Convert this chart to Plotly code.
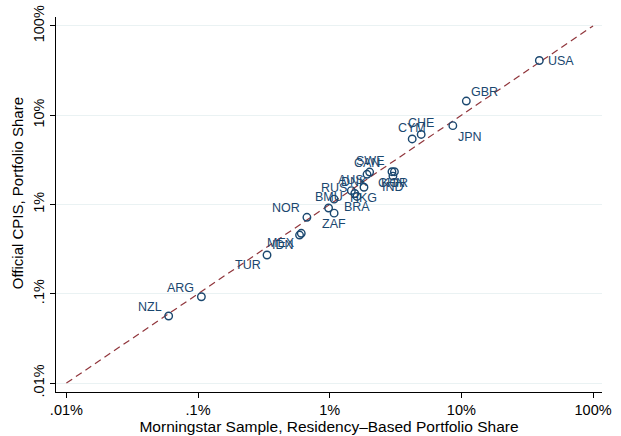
import math
import plotly.graph_objects as go

# Data (percent shares)
countries = ["USA", "GBR", "JPN", "CHE", "CYM", "SWE", "CAN", "CHN", "KOR", "IND",
             "HKG", "AUS", "DNK", "BRA", "RUS", "BMU", "ZAF", "NOR", "MEX", "IDN",
             "TUR", "ARG", "NZL"]
morningstar = [39.1, 10.9, 8.61, 4.95, 4.23, 2.01, 1.92, 2.97, 3.10, 3.02,
               1.82, 1.46, 1.55, 1.61, 1.08, 0.98, 1.08, 0.671, 0.608, 0.590,
               0.334, 0.106, 0.0598]
cpis = [41.0, 14.4, 7.64, 6.09, 5.42, 2.31, 2.18, 2.33, 2.33, 2.08,
        1.56, 1.43, 1.33, 1.23, 1.15, 0.914, 0.80, 0.719, 0.476, 0.455,
        0.272, 0.0927, 0.0564]
# Stata-style clock positions for marker labels
label_pos = [3, 1, 5, 12, 12, 12, 12, 6, 6, 6,
             6, 12, 12, 6, 12, 12, 6, 11, 7, 7,
             7, 11, 11]

tick_vals = [0.01, 0.1, 1, 10, 100]
tick_text = [".01%", ".1%", "1%", "10%", "100%"]

NAVY = "#1a476f"
MAROON = "#90353b"
FONT = "Liberation Sans, Arial, Helvetica, sans-serif"

fig = go.Figure()

# 45-degree line
fig.add_trace(go.Scatter(
    x=[tick_vals[0], tick_vals[-1]], y=[tick_vals[0], tick_vals[-1]],
    mode="lines", line=dict(color=MAROON, width=1.2, dash="7px,4.5px"),
    hoverinfo="skip", showlegend=False))

fig.add_trace(go.Scatter(
    x=morningstar, y=cpis, mode="markers",
    marker=dict(symbol="circle-open", size=7.5, color=NAVY, line=dict(width=1.4, color=NAVY)),
    text=countries, showlegend=False))

pos_style = {
    3: ("left", 7, 0),
    1: ("left", 3, 9),
    5: ("left", 3, -11),
    12: ("center", 0, 11),
    6: ("center", 0, -11),
    11: ("right", -5, 9),
    7: ("right", -4, -10),
}
for c, xv, yv, p in zip(countries, morningstar, cpis, label_pos):
    xa, dx, dy = pos_style[p]
    # annotation coordinates on log axes are given in log10 units
    fig.add_annotation(x=math.log10(xv), y=math.log10(yv), text=c, showarrow=False,
                       xanchor=xa, yanchor="middle", xshift=dx, yshift=dy,
                       font=dict(family=FONT, size=12.5, color=NAVY))

# y-axis title as annotation
fig.add_annotation(xref="paper", yref="paper", x=0.0, y=0.53, xshift=-39,
                   text="Official CPIS, Portfolio Share", textangle=-90,
                   showarrow=False, xanchor="center", yanchor="middle",
                   font=dict(family=FONT, size=15, color="black"))

fig.update_layout(
    width=621, height=436,
    margin=dict(l=56, r=19, t=17, b=44, autoexpand=False),
    paper_bgcolor="white", plot_bgcolor="white",
    font=dict(family=FONT, size=14.5, color="black"),
    xaxis=dict(type="log", range=[-2.079, 2.068], tickvals=tick_vals, ticktext=tick_text,
               showgrid=False, zeroline=False, showline=True, linecolor="black", linewidth=1,
               ticks="outside", ticklen=5, tickcolor="black", tickwidth=1,
               ticklabelstandoff=0, automargin=False,
               title=dict(text="Morningstar Sample, Residency–Based Portfolio Share",
                          font=dict(size=15.5), standoff=2)),
    yaxis=dict(type="log", range=[-2.10, 2.10], tickvals=tick_vals, ticktext=tick_text,
               showgrid=True, gridcolor="#eaf2f3", gridwidth=1, zeroline=False,
               showline=True, linecolor="black", linewidth=1, automargin=False,
               ticks="outside", ticklen=5, tickcolor="black", tickwidth=1,
               tickangle=-90),
)

fig.write_html("out.html")
